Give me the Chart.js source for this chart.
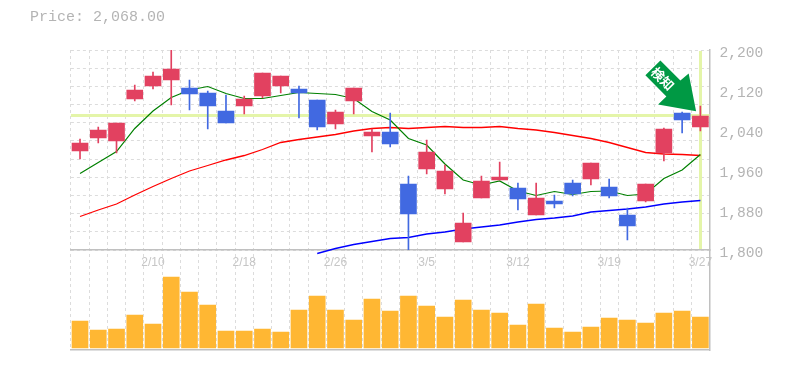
<!DOCTYPE html>
<html><head><meta charset="utf-8">
<style>html,body{margin:0;padding:0;background:#fff}
#wrap{position:relative;width:785px;height:370px}
#t{position:absolute;left:30px;top:9px;font:15px/18px "Liberation Mono",monospace;color:#b4b4b4;white-space:pre}
canvas{display:block}</style>
<script src="https://cdn.jsdelivr.net/npm/chart.js@4/dist/chart.umd.min.js"></script>
</head><body><div id="wrap"><div id="t">Price: 2,068.00</div><canvas id="c" width="785" height="370"></canvas></div>
<script>
const categories = ['','','','','2/10','','','','','2/18','','','','','2/26','','','','','3/5','','','','','3/12','','','','','3/19','','','','','3/27'];
const opens  = [1998,2024,2018,2102,2128,2140,2124,2114,2078,2088,2108,2128,2122,2100,2052,2098,2028,2036,1932,1962,1922,1816,1904,1940,1924,1870,1898,1934,1942,1926,1870,1898,1994,2074,2046];
const closes = [2014,2040,2054,2120,2148,2162,2112,2088,2054,2102,2154,2148,2114,2046,2076,2124,2036,2012,1872,1996,1958,1854,1938,1946,1902,1904,1892,1912,1974,1908,1848,1932,2042,2060,2068];
const highs  = [2022,2046,2054,2130,2156,2200,2140,2118,2110,2108,2154,2148,2128,2100,2080,2124,2042,2074,1948,2020,1970,1874,1948,1976,1934,1934,1910,1940,1974,1942,1884,1932,2044,2076,2088];
const lows   = [1982,2014,1994,2098,2122,2090,2080,2042,2054,2072,2104,2114,2064,2040,2042,2072,1996,2006,1800,1952,1912,1816,1904,1940,1880,1870,1884,1908,1930,1904,1820,1896,1978,2034,2038];
const volumes = [27,18,19,33,24,71,56,43,17,17,19,16,38,52,38,28,49,37,52,42,31,48,38,35,23,44,20,16,21,30,28,25,35,37,31];
const maShort = [1953,1975,1997,2043,2078,2105,2120,2127,2113,2103,2103,2109,2115,2113,2111,2103,2077,2060,2023,2010,1972,1940,1930,1938,1918,1909,1917,1911,1917,1918,1909,1912,1943,1960,1991];
const maMid   = [1867,1880,1892,1910,1927,1943,1958,1969,1980,1989,2001,2015,2021,2026,2031,2038,2043,2045,2043,2045,2047,2045,2045,2047,2043,2040,2035,2029,2023,2015,2005,1995,1992,1991,1989];
const maLong  = [null,null,null,null,null,null,null,null,null,null,null,null,null,1793,1803,1811,1817,1823,1825,1832,1836,1842,1846,1850,1856,1861,1864,1868,1876,1879,1882,1886,1892,1896,1899];
const priceTicks = [1800,1880,1960,2040,2120,2200];
const lastPrice = 2068;
const signalText = '検知';

const RED='#e24160', BLUE='#4169e1', GREY='#c0c0c0', GRID='#dcdcdc', HILITE='#e4f5a9';
const candleColor = opens.map((o,i)=> closes[i]>=o ? RED : BLUE);
const gridCount = 11;
const gridValues = Array.from({length:gridCount+1},(_,i)=>1800+i*400/gridCount);

const deco = {
  id:'deco',
  beforeDatasetsDraw(ch){
    const {ctx,chartArea:a,scales:{x,y}}=ch;
    const py=y.getPixelForValue(lastPrice), px=x.getPixelForValue(categories.length-1);
    ctx.save();
    ctx.fillStyle=HILITE;
    ctx.fillRect(a.left,Math.floor(py)-1,a.right-a.left,3);
    ctx.fillRect(Math.floor(px)-1,a.top+1,3,y.bottom-a.top-2);
    ctx.restore();
  },
  afterDatasetsDraw(ch){
    const {ctx,scales:{x,y}}=ch;
    const ax=x.getPixelForValue(categories.length-1), ay=y.getPixelForValue(lastPrice);
    const pts=[[-40,-55.5],[-55,-40.8],[-34,-19.5],[-42.3,-11.5],[-4.3,-4.8],[-11.7,-42.5],[-20,-35.5]];
    ctx.save();
    ctx.translate(ax,ay);
    ctx.fillStyle='#009944';
    ctx.beginPath();
    pts.forEach((p,i)=> i?ctx.lineTo(p[0],p[1]):ctx.moveTo(p[0],p[1]));
    ctx.closePath();ctx.fill();
    ctx.translate(-33.5,-33);
    ctx.rotate(Math.PI/4);
    ctx.fillStyle='#fff';
    ctx.font='bold 13px "Noto Sans CJK JP"';
    ctx.textAlign='center';ctx.textBaseline='middle';
    ctx.fillText(signalText,-6,0);
    ctx.restore();
  }
};

new Chart(document.getElementById('c'),{
  type:'bar',
  plugins:[deco],
  data:{labels:categories,datasets:[
    {type:'line',data:maLong,borderColor:'#0000ff',borderWidth:1.3,pointRadius:0,tension:0,yAxisID:'y',xAxisID:'x',order:5,clip:false,spanGaps:false},
    {type:'line',data:maMid,borderColor:'#ff0000',borderWidth:1.3,pointRadius:0,tension:0,yAxisID:'y',xAxisID:'x',order:4},
    {type:'line',data:maShort,borderColor:'#008000',borderWidth:1.2,pointRadius:0,tension:0,yAxisID:'y',xAxisID:'x',order:3},
    {data:lows.map((l,i)=>[l,highs[i]]),backgroundColor:candleColor,barThickness:1,grouped:false,yAxisID:'y',xAxisID:'x',order:2},
    {data:opens.map((o,i)=>[o,closes[i]]),backgroundColor:candleColor,barThickness:16,grouped:false,yAxisID:'y',xAxisID:'x',order:1},
    {data:volumes,backgroundColor:'#ffb733',barThickness:16,grouped:false,yAxisID:'v',xAxisID:'x',order:1}
  ]},
  options:{
    responsive:false,animation:false,
    layout:{padding:{top:50,left:70.9,right:0,bottom:20}},
    plugins:{legend:{display:false},tooltip:{enabled:false},title:{display:false}},
    scales:{
      x:{type:'category',position:{y:1800},offset:true,
        grid:{offset:true,color:GRID,drawTicks:false,tickLength:0},
        border:{color:GREY,width:1.5,dash:[3,3]},
        ticks:{autoSkip:false,maxRotation:0,padding:5,color:'#c6c6c6',font:{family:'"Liberation Sans"',size:12}}},
      xb:{type:'category',position:'bottom',labels:categories,offset:true,
        grid:{display:false,drawTicks:false},
        border:{color:GREY,width:1.5},
        ticks:{display:false}},
      y:{type:'linear',position:'right',stack:'p',stackWeight:2,min:1800,max:2200,
        afterFit(s){s.width=75.5},
        afterBuildTicks(s){
          const extra=priceTicks.filter(v=>!gridValues.includes(v));
          s.ticks=gridValues.concat(extra).sort((a,b)=>a-b).map(v=>({value:v}));
        },
        grid:{drawTicks:false,tickLength:0,color(c){return c.tick&&gridValues.includes(c.tick.value)?GRID:'rgba(0,0,0,0)'}},
        border:{color:GREY,width:1.5,dash:[3,3]},
        ticks:{autoSkip:false,padding:10,labelOffset:3,color:'#b4b4b4',font:{family:'"Liberation Mono"',size:14.6},
          callback(v){return priceTicks.includes(v)?v.toLocaleString('en-US'):''}}},
      v:{type:'linear',position:'right',stack:'p',stackWeight:1,min:-2,max:98,
        afterFit(s){s.width=75.5},
        grid:{display:false,drawTicks:false},
        border:{color:GREY,width:1.5},
        ticks:{display:false}}
    }
  }
});
</script></body></html>
